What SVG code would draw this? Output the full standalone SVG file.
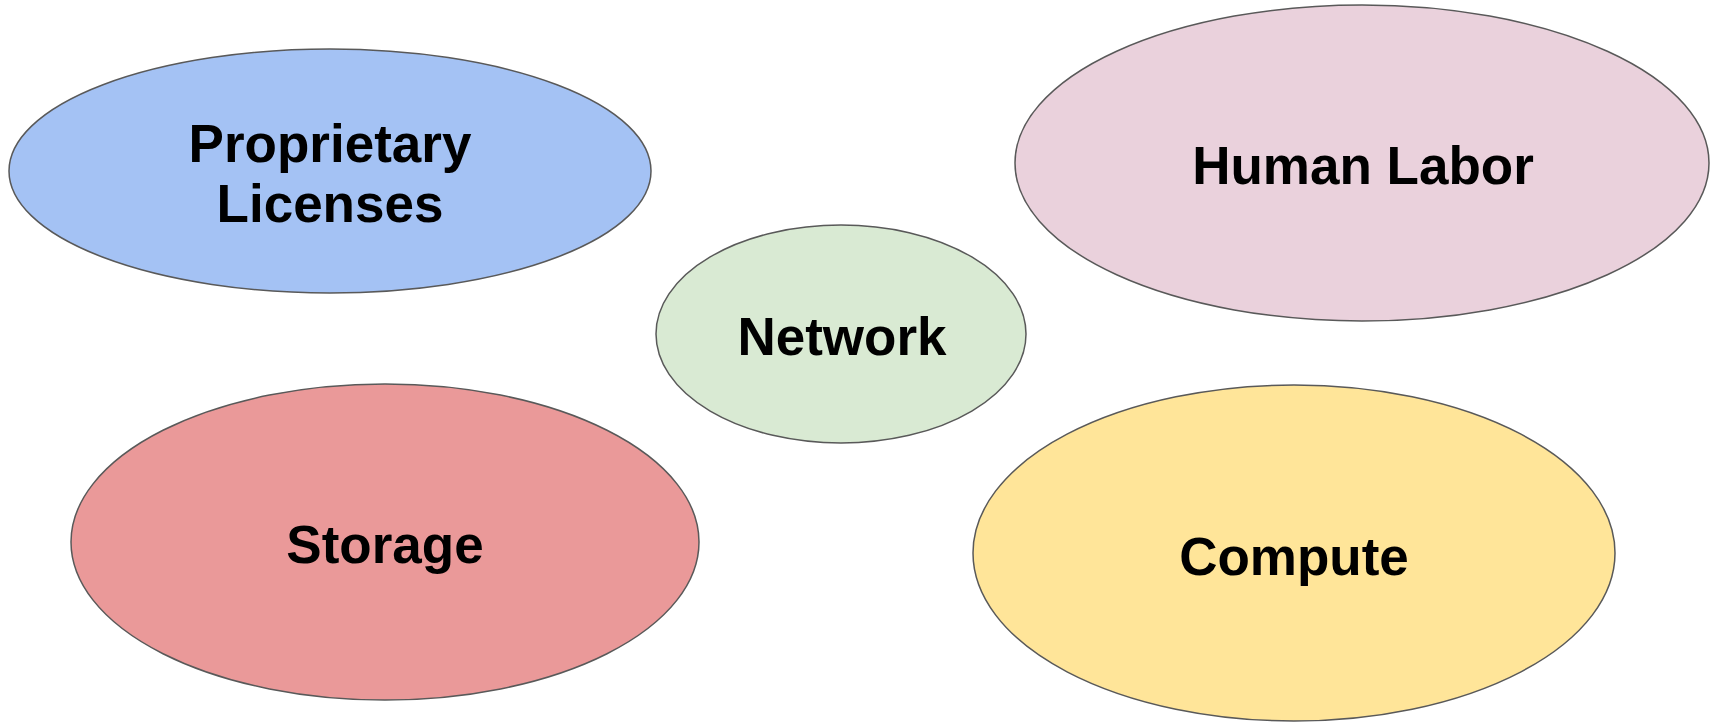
<svg xmlns="http://www.w3.org/2000/svg" width="1713" height="723" viewBox="0 0 1713 723">
  <style>
    .node ellipse { stroke: #595959; stroke-width: 1.5; }
    .label { font-family: "Liberation Sans", Arial, sans-serif; font-weight: bold; font-size: 53px; fill: #000000; text-anchor: middle; }
  </style>
  <rect x="0" y="0" width="1713" height="723" fill="#ffffff"/>
  <g id="connectors"></g>
  <g id="proprietary-licenses" class="node">
    <ellipse cx="330" cy="171" rx="321" ry="122" fill="#a4c2f4"/>
    <text class="label" x="330" y="162">Proprietary</text>
    <text class="label" x="330" y="222">Licenses</text>
  </g>
  <g id="human-labor" class="node">
    <ellipse cx="1362" cy="163" rx="347" ry="158" fill="#ead1dc"/>
    <text class="label" x="1363" y="184">Human Labor</text>
  </g>
  <g id="network" class="node">
    <ellipse cx="841" cy="334" rx="185" ry="109" fill="#d9ead3"/>
    <text class="label" x="842" y="355">Network</text>
  </g>
  <g id="storage" class="node">
    <ellipse cx="385" cy="542" rx="314" ry="158" fill="#ea9999"/>
    <text class="label" x="385" y="563">Storage</text>
  </g>
  <g id="compute" class="node">
    <ellipse cx="1294" cy="553" rx="321" ry="168" fill="#ffe599"/>
    <text class="label" x="1294" y="575">Compute</text>
  </g>
</svg>
